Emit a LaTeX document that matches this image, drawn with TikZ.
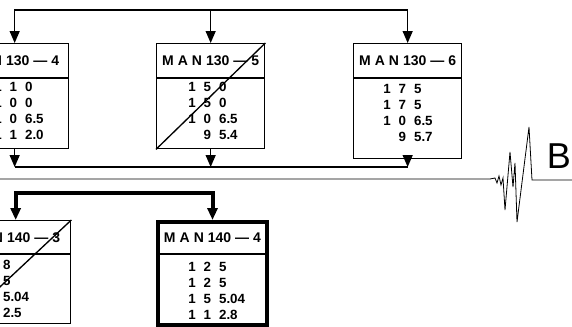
\documentclass[tikz,border=0pt]{standalone}
\usepackage{fontspec}
\setmainfont{Liberation Sans}
\newfontfamily\headfont{Liberation Sans Bold}
\newfontfamily\rowfont{Liberation Sans Bold}
\newcommand\mangap{\kern3pt}
\newcommand\dg{\kern6pt}
\usetikzlibrary{arrows.meta,positioning}
\tikzset{
  manbox/.style={draw,line width=1pt,minimum width=81pt,inner sep=0pt,anchor=north west},
  headtext/.style={font=\headfont\fontsize{10.5}{12}\selectfont,inner sep=0pt},
  rowtext/.style={font=\rowfont\fontsize{10}{12}\selectfont,align=left,inner sep=0pt,anchor=north west},
  flow/.style={line width=1pt},
  heavy/.style={line width=3pt},
  downtip/.style={-{Triangle[length=9pt,width=7.5pt]}},
  bothtip/.style={{Triangle[length=9pt,width=7.5pt]}-{Triangle[length=9pt,width=7.5pt]}}
}
\begin{document}
\begin{tikzpicture}[x=0.75pt,y=-0.75pt]
\useasboundingbox (0,0) rectangle (572,326);
\clip (0,0) rectangle (572,326);

% MAN130 row
\node[manbox,minimum height=78.75pt] (m4) at (-40,43) {};
\node[manbox,minimum height=78.75pt] (m5) at (156,43) {};
\node[manbox,minimum height=86.25pt] (m6) at (353,43) {};
\foreach \b in {m4,m5,m6}
  \draw[flow] ([yshift=-26.25pt]\b.north west) -- ([yshift=-26.25pt]\b.north east);
\node[headtext] (h4) at ([xshift=-3pt,yshift=-13.5pt]m4.north) {M\mangap A\mangap N\mangap 130\mangap—\mangap 4};
\node[headtext] (h5) at ([yshift=-13.5pt]m5.north) {M\mangap A\mangap N\mangap 130\mangap—\mangap 5};
\node[headtext] (h6) at ([yshift=-13.5pt]m6.north) {M\mangap A\mangap N\mangap 130\mangap—\mangap 6};
\node[rowtext] (r4) at ([xshift=25.5pt,yshift=-29.5pt]m4.north west) {1\dg 1\dg 0\\1\dg 0\dg 0\\1\dg 0\dg 6.5\\1\dg 1\dg 2.0};
\node[rowtext] (r5) at ([xshift=24pt,yshift=-29.5pt]m5.north west) {1\dg 5\dg 0\\1\dg 5\dg 0\\1\dg 0\dg 6.5\\\phantom{1\dg}9\dg 5.4};
\node[rowtext] (r6) at ([xshift=22.5pt,yshift=-31pt]m6.north west) {1\dg 7\dg 5\\1\dg 7\dg 5\\1\dg 0\dg 6.5\\\phantom{1\dg}9\dg 5.7};
\draw[flow] (m5.south west) -- (m5.north east);

% feed and collector lines
\draw[flow,bothtip] (m4.north) -- (m4.north |- 0,10) -- (m6.north |- 0,10) -- (m6.north);
\draw[flow,downtip] (m5.north |- 0,10) -- (m5.north);
\foreach \b in {m4,m5,m6}
  \draw[flow,downtip] (\b.south) -- (\b.south |- 0,167);
\draw[flow] (m4.south |- 0,167) -- (m6.south |- 0,167);

% trace B
\draw[line width=0.6pt] (0,179) -- (490,179) -- (495,178) -- (497,183) -- (499,176)
  -- (501,185) -- (503,178) -- (505,210) -- (510,152) -- (513,187) -- (515,163)
  -- (517,222) -- (529,127) -- (532,180) -- (572,180);
\node[font=\fontsize{27}{30}\selectfont,inner sep=0pt] (lblB) at (559,156) {B};

% MAN140 row
\node[manbox,minimum width=82.5pt,minimum height=77.25pt] (n3) at (-40,220) {};
\node[manbox,heavy,minimum width=81.75pt,minimum height=77.25pt] (n4) at (156,220) {};
\draw[flow] ([yshift=-25.5pt]n3.north west) -- ([yshift=-25.5pt]n3.north east);
\draw[line width=1pt] ([yshift=-25.5pt]n4.north west) -- ([yshift=-25.5pt]n4.north east);
\node[headtext] (h7) at ([xshift=-3pt,yshift=-13.5pt]n3.north) {M\mangap A\mangap N\mangap 140\mangap—\mangap 3};
\node[headtext] (h8) at ([yshift=-13.5pt]n4.north) {M\mangap A\mangap N\mangap 140\mangap—\mangap 4};
\node[rowtext] (r7) at ([xshift=9pt,yshift=-30pt]n3.north west) {1\dg 0\dg 8\\1\dg 0\dg 5\\1\dg 5\dg 5.04\\1\dg 0\dg 2.5};
\node[rowtext] (r8) at ([xshift=24pt,yshift=-31.5pt]n4.north west) {1\dg 2\dg 5\\1\dg 2\dg 5\\1\dg 5\dg 5.04\\1\dg 1\dg 2.8};
\draw[flow] (n3.south west) -- (n3.north east);
\draw[heavy,bothtip] (n3.north) -- (n3.north |- 0,193) -- (n4.north |- 0,193) -- (n4.north);
\end{tikzpicture}
\end{document}
